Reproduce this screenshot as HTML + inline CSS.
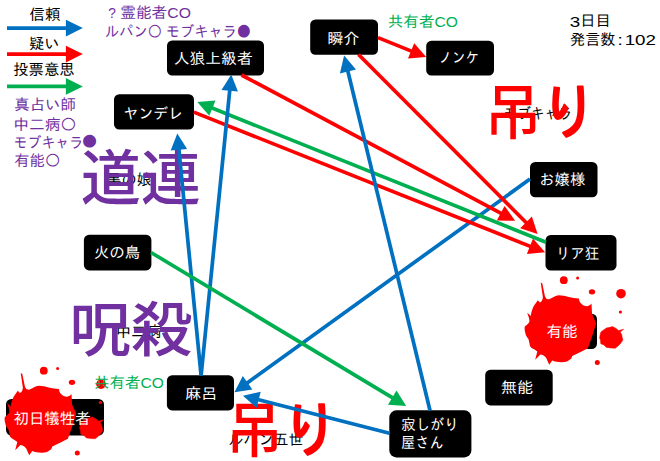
<!DOCTYPE html>
<html lang="ja"><head><meta charset="utf-8"><title>相関図</title>
<style>
html,body{margin:0;padding:0;background:#fff;}
body{width:660px;height:461px;overflow:hidden;}
svg{display:block;}
.s{font-family:"Liberation Sans","IPAGothic","Noto Sans CJK JP",sans-serif;}
.big{font-family:"Liberation Sans","Noto Sans CJK JP",sans-serif;font-weight:500;}
.bigw{font-family:"Liberation Sans","IPAGothic","Noto Sans CJK JP",sans-serif;stroke:#FF0000;stroke-width:2.2px;stroke-linejoin:round;stroke-linecap:round;}
.j{font-family:"IPAGothic","Noto Sans CJK JP",sans-serif;}
</style></head><body>
<svg width="660" height="461" viewBox="0 0 660 461">
<rect width="660" height="461" fill="#fff"/>
<text class="s" transform="translate(106.26 184.88) scale(0.9888 1)" font-size="15.30" fill="#000">黒の娘</text>
<text class="s" transform="translate(503.43 118.75) scale(0.8966 1)" font-size="15.30" fill="#000">モブキャラ</text>
<text class="s" transform="translate(115.75 337.12) scale(1.0000 1)" font-size="15.30" fill="#000">中二病</text>
<text class="s" transform="translate(228.52 445.38) scale(0.9799 1)" font-size="15.30" fill="#000">ルパン五世</text>
<rect x="167.0" y="40.4" width="97.0" height="35.0" rx="5.2" fill="#000"/>
<rect x="114.0" y="94.3" width="80.0" height="35.2" rx="5.3" fill="#000"/>
<rect x="310.2" y="19.5" width="67.8" height="35.3" rx="5.3" fill="#000"/>
<rect x="426.2" y="40.7" width="67.8" height="34.7" rx="5.2" fill="#000"/>
<rect x="530.0" y="162.0" width="67.5" height="35.2" rx="5.3" fill="#000"/>
<rect x="545.5" y="235.0" width="71.0" height="35.5" rx="5.3" fill="#000"/>
<rect x="530.0" y="313.8" width="67.0" height="35.2" rx="5.3" fill="#000"/>
<rect x="485.2" y="369.8" width="67.5" height="35.6" rx="5.3" fill="#000"/>
<rect x="166.9" y="375.3" width="67.1" height="35.1" rx="5.3" fill="#000"/>
<rect x="83.9" y="234.8" width="67.5" height="35.6" rx="5.3" fill="#000"/>
<rect x="6.0" y="399.0" width="98.0" height="36.6" rx="5.5" fill="#000"/>
<rect x="389.3" y="410.3" width="82.1" height="47.1" rx="7.1" fill="#000"/>
<g transform="translate(520,-90.5)"><g transform="translate(-520,90.5)" fill="#FF0000">
<path d="M540.7,282.6 L542.3,283.5 L545,296.5 Q546,299.5 549,299.3 C552,298.5 555,295.5 559,295.3 C565,295.5 572,298.5 579,298.5 C579,302 582,306 587,306.2 C589,306 590.5,305 591.5,303.6 L592,313.5 C593,317 595,320 596.2,323.3 L592,336.8 L587.9,348.3 L581.6,351.4 L572.3,356.1 L571.2,358.7 L567,361.6 C562,362.8 556,362.2 552.2,360.5 L549.2,364.8 L546.1,357.7 C544,355.5 542,354.5 540.4,354.5 L535.2,359.8 L537.3,351.4 C534,349 531,347.5 530,346.2 C529.5,343 529,341 528.4,338.9 C526,336 525.3,334 525.3,332.7 C524.5,330 524.5,328 524.8,326.4 C527,325 529,323 529.5,321.2 L528.9,317.7 L527.2,312.7 L531,316.1 C531,313 531.5,311.4 533.6,306.2 L537.8,300.2 L539.9,302.6 L541.4,301.5 C542.5,300 543,298 542.8,296.8 Z"/>
<circle cx="563.8" cy="280.2" r="3.9"/>
<circle cx="577.6" cy="277.9" r="1.5"/>
<ellipse cx="592" cy="291.8" rx="3.2" ry="2.6"/>
<circle cx="621" cy="293.7" r="4.8"/>
<circle cx="620.4" cy="312" r="1.6"/>
<path d="M612.6,326.6 L616,328.4 L618.6,330.5 L623.6,329.3 L620.2,331.9 L621.7,334.5 L622.1,337.1 L622.9,339.8 L620.8,343.2 L617.8,346.2 L615.2,348.3 L610.8,348 L606.5,347.4 L603.9,345 L600.8,343.7 L600.4,339.7 L599.6,338 L600.2,334.5 L600.9,331.9 L603.9,329.7 L606.5,327.9 L610,327.3 Z" stroke="#FF0000" stroke-width="0.5" stroke-linejoin="round"/>
<circle cx="597.3" cy="362.4" r="2.5"/>
</g>
</g>
<g><g transform="translate(-520,90.5)" fill="#FF0000">
<path d="M540.7,282.6 L542.3,283.5 L545,296.5 Q546,299.5 549,299.3 C552,298.5 555,295.5 559,295.3 C565,295.5 572,298.5 579,298.5 C579,302 582,306 587,306.2 C589,306 590.5,305 591.5,303.6 L592,313.5 C593,317 595,320 596.2,323.3 L592,336.8 L587.9,348.3 L581.6,351.4 L572.3,356.1 L571.2,358.7 L567,361.6 C562,362.8 556,362.2 552.2,360.5 L549.2,364.8 L546.1,357.7 C544,355.5 542,354.5 540.4,354.5 L535.2,359.8 L537.3,351.4 C534,349 531,347.5 530,346.2 C529.5,343 529,341 528.4,338.9 C526,336 525.3,334 525.3,332.7 C524.5,330 524.5,328 524.8,326.4 C527,325 529,323 529.5,321.2 L528.9,317.7 L527.2,312.7 L531,316.1 C531,313 531.5,311.4 533.6,306.2 L537.8,300.2 L539.9,302.6 L541.4,301.5 C542.5,300 543,298 542.8,296.8 Z"/>
<circle cx="563.8" cy="280.2" r="3.9"/>
<circle cx="577.6" cy="277.9" r="1.5"/>
<ellipse cx="592" cy="291.8" rx="3.2" ry="2.6"/>
<circle cx="621" cy="293.7" r="4.8"/>
<circle cx="620.4" cy="312" r="1.6"/>
<path d="M612.6,326.6 L616,328.4 L618.6,330.5 L623.6,329.3 L620.2,331.9 L621.7,334.5 L622.1,337.1 L622.9,339.8 L620.8,343.2 L617.8,346.2 L615.2,348.3 L610.8,348 L606.5,347.4 L603.9,345 L600.8,343.7 L600.4,339.7 L599.6,338 L600.2,334.5 L600.9,331.9 L603.9,329.7 L606.5,327.9 L610,327.3 Z" stroke="#FF0000" stroke-width="0.5" stroke-linejoin="round"/>
<circle cx="597.3" cy="362.4" r="2.5"/>
</g>
</g>
<text class="s" transform="translate(173.71 64.00) scale(1.0336 1)" font-size="15.30" fill="#fff">人狼上級者</text>
<text class="s" transform="translate(123.54 118.62) scale(0.9739 1)" font-size="15.30" fill="#fff">ヤンデレ</text>
<text class="s" transform="translate(327.56 43.70) scale(1.0365 1)" font-size="15.30" fill="#fff">瞬介</text>
<text class="s" transform="translate(438.58 63.12) scale(0.8795 1)" font-size="15.30" fill="#fff">ノンケ</text>
<text class="s" transform="translate(539.24 184.75) scale(1.0046 1)" font-size="15.30" fill="#fff">お嬢様</text>
<text class="s" transform="translate(555.72 258.75) scale(0.9455 1)" font-size="15.30" fill="#fff">リア狂</text>
<text class="s" transform="translate(546.43 336.98) scale(1.0241 1)" font-size="15.30" fill="#fff">有能</text>
<text class="s" transform="translate(500.70 392.88) scale(1.0690 1)" font-size="15.30" fill="#fff">無能</text>
<text fill="#fff"><tspan class="s" x="401.30" y="429.88" font-size="15.30" textLength="57.40" lengthAdjust="spacingAndGlyphs">寂しがり</tspan><tspan class="s" x="401.07" y="448.10" font-size="15.30" textLength="42.51" lengthAdjust="spacingAndGlyphs">屋さん</tspan></text>
<text class="s" transform="translate(185.22 398.88) scale(1.0450 1)" font-size="15.30" fill="#fff">麻呂</text>
<text class="s" transform="translate(93.74 258.12) scale(1.0114 1)" font-size="15.30" fill="#fff">火の鳥</text>
<text class="s" transform="translate(13.44 423.57) scale(1.0107 1)" font-size="15.30" fill="#fff">初日犠牲者</text>
<text class="big" transform="translate(80.75 199.92) scale(1.0067 1)" font-size="59.73" fill="#7030A0">道連</text>
<text class="big" transform="translate(69.54 350.82) scale(1.0398 1)" font-size="59.14" fill="#7030A0">呪殺</text>
<text fill="#FF0000"><tspan class="big" x="484.98" y="133.54" font-size="59.55" textLength="56.17" lengthAdjust="spacingAndGlyphs">吊</tspan><tspan class="bigw" x="540.60" y="134.15" font-size="61.65" textLength="57.00" lengthAdjust="spacingAndGlyphs">り</tspan></text>
<text fill="#FF0000"><tspan class="big" x="226.25" y="451.78" font-size="60.23" textLength="56.43" lengthAdjust="spacingAndGlyphs">吊</tspan><tspan class="bigw" x="281.83" y="452.13" font-size="61.88" textLength="57.35" lengthAdjust="spacingAndGlyphs">り</tspan></text>
<line x1="530.0" y1="179.0" x2="246.8" y2="383.2" stroke="#0070C0" stroke-width="3.7"/><polygon points="234.4,392.2 242.8,376.0 252.4,389.4" fill="#0070C0"/>
<line x1="193.8" y1="112.1" x2="530.9" y2="246.6" stroke="#FF0000" stroke-width="3.7"/><polygon points="545.1,252.3 526.9,253.9 533.0,238.6" fill="#FF0000"/>
<line x1="241.5" y1="75.0" x2="501.6" y2="213.6" stroke="#FF0000" stroke-width="3.7"/><polygon points="515.1,220.8 496.8,220.4 504.6,205.9" fill="#FF0000"/>
<line x1="358.5" y1="54.5" x2="526.8" y2="223.2" stroke="#FF0000" stroke-width="3.7"/><polygon points="537.6,234.0 520.2,228.3 531.9,216.6" fill="#FF0000"/>
<line x1="378.0" y1="37.6" x2="412.0" y2="51.4" stroke="#FF0000" stroke-width="3.7"/><polygon points="426.2,57.1 408.0,58.6 414.2,43.3" fill="#FF0000"/>
<line x1="546.0" y1="242.2" x2="211.5" y2="107.8" stroke="#00B050" stroke-width="3.7"/><polygon points="197.3,102.1 215.5,100.5 209.3,115.8" fill="#00B050"/>
<line x1="201.1" y1="375.5" x2="229.8" y2="89.8" stroke="#0070C0" stroke-width="3.7"/><polygon points="231.3,74.6 237.9,91.6 221.5,90.0" fill="#0070C0"/>
<line x1="201.1" y1="375.5" x2="178.8" y2="148.7" stroke="#0070C0" stroke-width="3.7"/><polygon points="177.3,133.5 187.1,148.9 170.7,150.5" fill="#0070C0"/>
<line x1="430.0" y1="410.5" x2="347.7" y2="70.5" stroke="#0070C0" stroke-width="3.7"/><polygon points="344.1,55.6 356.0,69.5 339.9,73.4" fill="#0070C0"/>
<line x1="389.5" y1="433.2" x2="257.7" y2="399.5" stroke="#0070C0" stroke-width="3.7"/><polygon points="242.9,395.7 260.7,391.7 256.6,407.7" fill="#0070C0"/>
<line x1="151.0" y1="252.5" x2="393.1" y2="398.2" stroke="#00B050" stroke-width="3.7"/><polygon points="406.2,406.1 388.0,404.8 396.5,390.6" fill="#00B050"/>
<line x1="7.0" y1="28.1" x2="66.9" y2="28.1" stroke="#0070C0" stroke-width="3.7"/><polygon points="82.8,28.1 65.9,36.4 65.9,19.8" fill="#0070C0"/>
<line x1="7.0" y1="54.1" x2="66.9" y2="54.1" stroke="#FF0000" stroke-width="3.7"/><polygon points="82.8,54.1 65.9,62.4 65.9,45.8" fill="#FF0000"/>
<line x1="7.0" y1="86.4" x2="66.9" y2="86.4" stroke="#00B050" stroke-width="3.7"/><polygon points="82.8,86.4 65.9,94.7 65.9,78.1" fill="#00B050"/>
<text class="s" transform="translate(29.23 20.12) scale(1.0256 1)" font-size="15.30" fill="#000">信頼</text>
<text class="s" transform="translate(29.00 48.62) scale(1.0000 1)" font-size="15.30" fill="#000">疑い</text>
<text class="s" transform="translate(13.25 75.38) scale(1.0042 1)" font-size="15.30" fill="#000">投票意思</text>
<text class="s" transform="translate(14.24 110.00) scale(1.0084 1)" font-size="15.30" fill="#7030A0">真占い師</text>
<text class="s" transform="translate(13.19 129.62) scale(1.0345 1)" font-size="15.30" fill="#7030A0">中二病<tspan class="j">○</tspan></text>
<text fill="#7030A0"><tspan class="s" x="13.61" y="147.75" font-size="15.30" textLength="69.42" lengthAdjust="spacingAndGlyphs">モブキャラ</tspan><tspan class="j" x="81.73" y="147.48" font-size="15.30" textLength="15.60" lengthAdjust="spacingAndGlyphs">●</tspan></text>
<text class="s" transform="translate(14.25 166.38) scale(1.0057 1)" font-size="15.30" fill="#7030A0">有能<tspan class="j">○</tspan></text>
<text fill="#7030A0"><tspan class="s" x="108.33" y="17.88" font-size="15.30" textLength="7.64" lengthAdjust="spacingAndGlyphs">?</tspan><tspan class="s" x="120.23" y="18.12" font-size="15.30" textLength="70.63" lengthAdjust="spacingAndGlyphs">霊能者CO</tspan></text>
<text class="s" transform="translate(105.07 36.88) scale(0.9290 1)" font-size="15.30" fill="#7030A0">ルパン<tspan class="j">○</tspan> モブキャラ<tspan class="j">●</tspan></text>
<text class="s" transform="translate(387.73 26.77) scale(1.0187 1)" font-size="15.30" fill="#00B050">共有者CO</text>
<text class="s" transform="translate(93.99 388.27) scale(1.0149 1)" font-size="15.30" fill="#00B050">共有者CO</text>
<text fill="#000"><tspan class="s" x="569.88" y="26.52" font-size="15.30" textLength="10.46" lengthAdjust="spacingAndGlyphs">3</tspan><tspan class="s" x="580.26" y="26.40" font-size="15.30" textLength="30.53" lengthAdjust="spacingAndGlyphs">日目</tspan></text>
<text fill="#000"><tspan class="s" x="570.06" y="45.00" font-size="15.30" textLength="45.27" lengthAdjust="spacingAndGlyphs">発言数</tspan><tspan class="s" x="617.44" y="45.30" font-size="15.30" textLength="5.31" lengthAdjust="spacingAndGlyphs">:</tspan><tspan class="s" x="624.67" y="45.27" font-size="15.30" textLength="31.29" lengthAdjust="spacingAndGlyphs">102</tspan></text>
</svg>
</body></html>
